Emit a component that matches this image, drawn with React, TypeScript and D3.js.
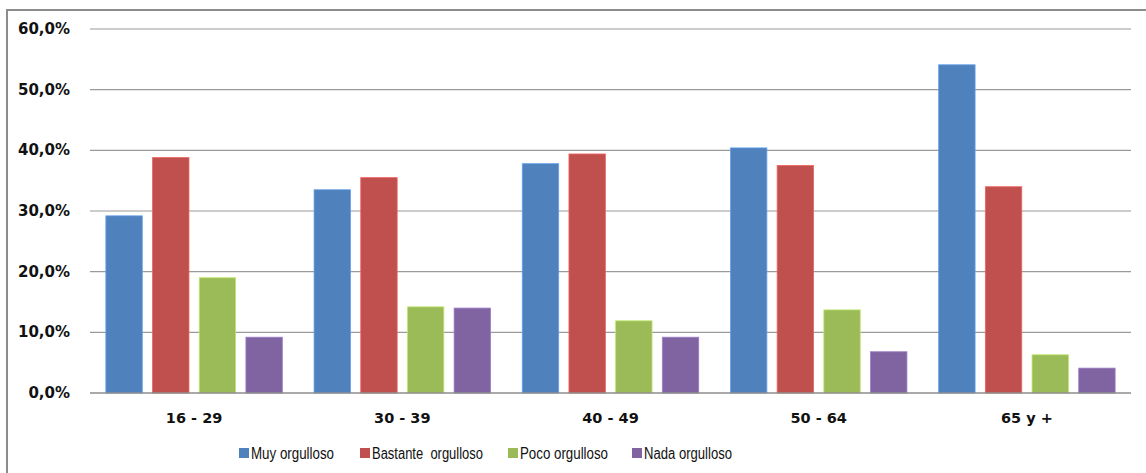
import React from "react";
import * as d3 from "d3";

const categories = ["16 - 29", "30 - 39", "40 - 49", "50 - 64", "65 y +"];
const seriesNames = ["Muy orgulloso", "Bastante  orgulloso", "Poco orgulloso", "Nada orgulloso"];
const seriesColors = ["#4F81BD", "#C0504D", "#9BBB59", "#8064A2"];
const muy = [29.2, 33.5, 37.8, 40.4, 54.1];
const bastante = [38.8, 35.5, 39.4, 37.5, 34.0];
const poco = [19.0, 14.2, 11.9, 13.7, 6.3];
const nada = [9.2, 14.0, 9.2, 6.8, 4.1];
const yTicks = [0, 10, 20, 30, 40, 50, 60];
const legendX = [239, 360, 508, 632];
const legendTextWidth = [83, 111, 88, 88];

const series = [muy, bastante, poco, nada];

export default function App() {
  const W = 1146, H = 473;
  const left = 90, right = 1131, top = 29, bottom = 393;
  const x0 = d3.scaleBand<string>().domain(categories).range([left, right]).paddingInner(0).paddingOuter(0);
  const x1 = d3.scaleBand<number>().domain([0, 1, 2, 3]).range([0, x0.bandwidth()]).paddingInner(0.22).paddingOuter(0.34);
  const y = d3.scaleLinear().domain([0, 60]).range([bottom, top]);
  const fmt = (v: number) => v.toFixed(1).replace(".", ",") + "%";

  return (
    <svg width={W} height={H} style={{ position: "absolute", left: 0, top: 0 }}>
      <rect x={0} y={0} width={W} height={H} fill="#fff" />
      <rect x={7} y={10} width={W + 10} height={H + 10} fill="none" stroke="#8c8c8c" strokeWidth={2} />
      {yTicks.map((t) => (
        <g key={t}>
          {t > 0 && <line x1={left} x2={right} y1={y(t)} y2={y(t)} stroke="#9a9a9a" strokeWidth={1.2} />}
          <text x={70} y={y(t) + 5} textAnchor="end" fontFamily="DejaVu Sans" fontWeight="bold" fontSize={15} fill="#111">{fmt(t)}</text>
        </g>
      ))}
      {categories.map((c, ci) => (
        <g key={c}>
          {series.map((s, si) => (
            <rect key={si} x={(x0(c) as number) + (x1(si) as number)} y={y(s[ci])} width={x1.bandwidth()} height={bottom - y(s[ci])}
              fill={seriesColors[si]} stroke={d3.color(seriesColors[si])!.brighter(0.6).toString()} strokeWidth={0.8} />
          ))}
          <text x={(x0(c) as number) + x0.bandwidth() / 2} y={423} textAnchor="middle" fontFamily="DejaVu Sans" fontWeight="bold" fontSize={14.5} fill="#111">{c}</text>
        </g>
      ))}
      <line x1={left} x2={right} y1={bottom} y2={bottom} stroke="#8c8c8c" strokeWidth={1.6} />
      {seriesNames.map((n, i) => (
        <g key={n}>
          <rect x={legendX[i]} y={448} width={10} height={10} fill={seriesColors[i]} />
          <text x={legendX[i] + 12} y={459} fontFamily="Liberation Sans" fontSize={16} fill="#111"
            textLength={legendTextWidth[i]} lengthAdjust="spacingAndGlyphs" style={{ whiteSpace: "pre" }}>{n}</text>
        </g>
      ))}
    </svg>
  );
}
